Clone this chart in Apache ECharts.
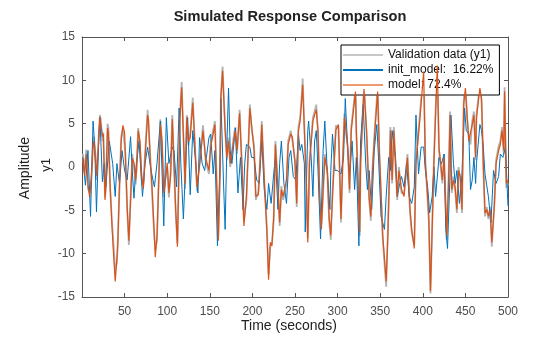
<!DOCTYPE html>
<html>
<head>
<meta charset="utf-8">
<script src="https://cdn.jsdelivr.net/npm/echarts@6/dist/echarts.min.js"></script>
<style>html,body{margin:0;padding:0;background:#fff}#c{width:560px;height:337px}</style>
</head>
<body>
<div id="c"></div>
<script>
// [time (s), amplitude]
var validationData = [[1,1.5],[3,-0.5],[5,2.0],[7,-2.5],[9,-3.0],[11,-1.5],[13,3.0],[14,3.5],[16,1.0],[17,-1.5],[19,2.5],[21,6.0],[22,5.5],[24,3.0],[25,4.0],[27,-3.5],[28,-2.5],[30,5.0],[31,4.5],[33,-2.5],[35,-6.0],[37,-9.0],[39,-12.0],[41,-11.0],[42,-8.5],[44,-2.5],[46,3.5],[48,4.5],[50,4.5],[51,1.5],[53,-5.0],[55,-9.0],[57,-3.5],[59,1.5],[61,0.0],[63,-2.0],[64,0.0],[66,4.5],[68,2.5],[70,-1.5],[72,-2.0],[74,1.5],[77,6.6],[78,5.0],[80,1.5],[82,-2.5],[84,-6.5],[86,-9.5],[88,-8.5],[90,-1.5],[92,5.5],[94,2.5],[96,-3.5],[98,-1.0],[100,0.0],[102,-3.5],[104,-0.5],[106,6.0],[110,-5.5],[112,-8.8],[115,6.2],[117,9.8],[121,-2.5],[123,6.0],[125,2.5],[127,3.8],[130,8.0],[135,-2.8],[139,1.5],[142,4.8],[145,0.8],[149,-0.8],[151,2.8],[156,5.3],[160,-8.0],[162,-0.8],[163,8.2],[165,11.6],[168,4.6],[170,0.8],[172,3.4],[174,0.0],[178,3.5],[180,4.6],[182,1.5],[185,6.6],[188,-0.8],[190,-6.2],[193,-3.8],[197,7.2],[199,4.5],[202,2.4],[204,-3.8],[207,-2.8],[209,0.8],[211,5.3],[214,-1.9],[217,-7.0],[219,-12.4],[221,-9.2],[223,-8.6],[225,-6.2],[227,3.0],[230,-2.2],[232,-6.8],[234,-2.2],[236,-3.8],[238,-3.0],[240,-1.9],[242,3.0],[245,4.2],[247,3.0],[250,0.8],[252,-4.6],[254,4.6],[256,5.7],[258,8.4],[259,10.2],[261,4.6],[263,-1.2],[265,-8.2],[267,0.8],[271,5.7],[273,6.4],[275,7.2],[277,3.8],[279,-3.8],[281,-6.6],[283,-3.0],[285,1.5],[288,-0.8],[290,-6.2],[292,-8.4],[294,-3.0],[298,4.8],[301,4.4],[304,-6.4],[306,0.8],[308,6.2],[310,3.8],[312,2.4],[314,-3.0],[316,4.6],[318,6.4],[321,9.2],[322,3.8],[326,-8.0],[327,0.8],[331,9.6],[334,3.8],[337,-3.8],[339,-6.2],[341,0.0],[344,5.0],[347,9.2],[349,1.5],[353,-8.4],[357,-13.8],[359,-7.4],[361,0.0],[362,4.6],[364,-1.9],[366,4.6],[368,0.0],[370,-3.8],[372,0.0],[375,-3.0],[378,-3.0],[382,1.5],[385,-5.3],[387,-7.6],[390,-9.0],[392,0.8],[395,4.2],[397,6.6],[399,9.0],[401,11.4],[403,0.8],[405,-2.8],[407,-6.2],[409,-14.6],[411,-6.8],[413,0.8],[415,6.6],[417,11.2],[419,1.9],[423,-1.9],[425,1.5],[428,-8.4],[430,-2.2],[432,6.4],[434,-3.0],[436,-1.1],[438,-2.8],[440,-5.3],[442,0.0],[444,-1.5],[446,-5.3],[448,7.6],[450,9.6],[452,5.6],[454,3.4],[456,2.6],[458,5.3],[460,6.4],[462,0.8],[463,6.0],[467,9.6],[469,7.4],[471,0.0],[473,-5.7],[475,-4.6],[477,-6.0],[479,-4.6],[481,-9.2],[484,-4.2],[486,0.8],[489,2.4],[491,3.0],[493,4.6],[495,1.5],[496,9.2],[498,-2.4],[500,-1.9]];

var initModelData = [[1,1.1],[4,-2.1],[7,1.9],[10,-5.7],[13,5.3],[15,2.3],[17,-5.2],[20,4.3],[21,5.7],[24,-1.7],[26,0.4],[28,-2.3],[32,3.0],[36,0.4],[39,-3.4],[41,0.4],[44,-1.9],[47,1.9],[50,-0.4],[53,-1.5],[57,3.5],[59,-0.4],[61,-3.6],[63,-0.4],[67,3.0],[71,-3.4],[74,0.4],[77,2.3],[81,-0.4],[85,-2.3],[88,0.4],[92,5.3],[96,-6.8],[99,5.7],[102,0.4],[106,2.3],[108,1.9],[111,-2.3],[114,6.8],[116,0.4],[119,-6.0],[122,1.1],[124,5.7],[127,-3.2],[130,4.2],[133,1.1],[136,-3.0],[138,3.4],[141,0.4],[144,-0.4],[146,1.1],[149,3.4],[151,3.8],[154,-0.8],[156,1.9],[159,-9.1],[162,0.4],[163,7.9],[166,-1.5],[168,-7.2],[170,2.3],[172,9.1],[174,1.9],[176,0.4],[180,4.5],[183,-3.0],[186,1.1],[189,-4.9],[191,0.4],[193,2.6],[197,2.3],[199,1.1],[202,1.1],[205,-1.5],[208,-1.9],[211,3.0],[214,-2.6],[217,-4.9],[219,-1.9],[222,-4.2],[225,-0.8],[227,1.1],[230,-4.9],[232,0.4],[234,3.0],[237,-1.9],[240,-4.2],[243,1.1],[245,1.9],[248,-1.1],[251,-1.5],[254,3.8],[256,1.9],[258,2.6],[261,0.4],[262,-7.5],[265,4.2],[266,5.3],[269,1.1],[271,-3.4],[273,3.0],[275,4.2],[277,-0.4],[280,-8.3],[283,1.9],[285,5.3],[288,-0.8],[291,-4.9],[292,-0.4],[294,3.8],[297,-0.4],[300,-0.4],[304,-0.8],[307,1.1],[309,7.9],[312,1.9],[314,-1.1],[317,3.0],[320,-2.6],[322,1.1],[325,-9.1],[327,3.0],[330,7.2],[333,0.4],[335,-2.6],[337,-0.4],[340,-4.9],[343,1.9],[346,4.9],[348,1.1],[351,-5.7],[355,-7.2],[357,-3.4],[360,1.1],[362,-0.4],[364,4.2],[368,1.1],[370,-3.4],[373,-1.9],[375,-1.1],[378,-2.3],[381,0.4],[384,-3.4],[387,-4.2],[390,-2.3],[392,6.0],[395,-0.8],[398,2.3],[401,2.3],[403,-0.4],[406,-2.6],[408,-5.3],[411,-3.4],[413,0.0],[415,-3.4],[419,1.1],[422,0.4],[425,1.5],[427,-7.2],[429,-9.4],[432,-0.8],[433,6.0],[436,0.4],[438,-1.9],[440,-0.4],[443,-4.2],[446,-0.8],[449,6.8],[451,4.2],[454,3.8],[456,-2.6],[458,-1.5],[460,1.1],[462,-1.9],[463,0.4],[467,4.9],[469,4.2],[471,2.3],[473,-0.8],[477,-3.4],[480,-6.4],[483,-0.4],[486,-1.9],[489,-1.1],[491,1.5],[494,1.1],[497,2.3],[499,-2.3],[500,-4.5]];

var modelData = [[1,1.0],[3,-1.0],[5,1.5],[7,-2.0],[9,-3.5],[11,-1.0],[13,2.5],[14,3.0],[16,0.5],[17,-1.0],[19,2.0],[21,5.8],[22,5.0],[24,3.5],[25,3.8],[27,-3.8],[28,-2.0],[30,4.5],[31,4.0],[33,-2.0],[35,-6.5],[37,-10.0],[39,-13.2],[41,-10.5],[42,-9.0],[44,-2.0],[46,3.0],[48,4.8],[50,4.0],[51,1.0],[53,-4.5],[55,-8.5],[57,-4.0],[59,1.0],[61,0.5],[63,-1.5],[64,-0.5],[66,4.2],[68,3.0],[70,-1.0],[72,-2.5],[74,1.0],[77,6.0],[78,5.5],[80,1.0],[82,-2.0],[84,-6.0],[86,-10.4],[88,-8.0],[90,-2.0],[92,4.9],[94,3.0],[96,-3.0],[98,-1.5],[100,0.5],[102,-3.0],[104,-1.0],[106,5.5],[110,-4.9],[112,-9.2],[115,5.7],[117,9.2],[121,-1.9],[123,5.7],[125,3.0],[127,3.4],[130,7.4],[135,-2.3],[139,1.1],[142,4.2],[145,1.1],[149,-0.4],[151,2.3],[156,4.9],[160,-8.5],[162,-0.4],[163,7.9],[165,11.1],[168,4.2],[170,1.1],[172,3.0],[174,0.4],[178,3.0],[180,4.2],[182,1.9],[185,6.2],[188,-0.4],[190,-6.8],[193,-3.4],[197,6.8],[199,4.9],[202,1.9],[204,-3.4],[207,-3.2],[209,0.4],[211,4.9],[214,-1.5],[217,-7.5],[219,-13.0],[221,-8.7],[223,-9.1],[225,-5.7],[227,2.6],[230,-2.6],[232,-6.4],[234,-2.6],[236,-3.4],[238,-3.4],[240,-1.5],[242,2.6],[245,3.8],[247,3.4],[250,0.4],[252,-4.2],[254,4.2],[256,5.3],[258,7.9],[259,9.5],[261,4.2],[263,-0.8],[265,-8.7],[267,0.4],[271,5.3],[273,6.0],[275,6.6],[277,4.2],[279,-3.4],[281,-7.2],[283,-2.6],[285,1.1],[288,-0.4],[290,-5.7],[292,-7.9],[294,-3.4],[298,4.3],[301,4.9],[304,-6.0],[306,0.4],[308,5.7],[310,4.2],[312,1.9],[314,-2.6],[316,4.2],[318,6.0],[321,8.7],[322,4.2],[326,-7.5],[327,0.4],[331,9.0],[334,4.2],[337,-3.4],[339,-5.7],[341,-0.4],[344,4.5],[347,8.7],[349,1.9],[353,-7.9],[357,-13.2],[359,-7.9],[361,-0.4],[362,4.2],[364,-1.5],[366,4.2],[368,0.4],[370,-3.4],[372,-0.4],[375,-2.6],[378,-3.4],[382,1.1],[385,-4.9],[387,-7.2],[390,-9.4],[392,0.4],[395,3.8],[397,6.0],[399,8.5],[401,11.0],[403,0.4],[405,-2.3],[407,-5.7],[409,-14.3],[411,-7.2],[413,0.4],[415,6.0],[417,11.7],[419,2.3],[423,-1.5],[425,1.1],[428,-7.9],[430,-2.6],[432,6.0],[434,-2.6],[436,-1.5],[438,-2.3],[440,-4.9],[442,-0.4],[444,-1.1],[446,-4.9],[448,7.2],[450,9.1],[452,6.0],[454,3.0],[456,3.0],[458,4.9],[460,6.0],[462,1.1],[463,5.7],[467,9.1],[469,7.9],[471,0.4],[473,-5.3],[475,-4.9],[477,-5.7],[479,-4.9],[481,-8.7],[484,-4.5],[486,0.4],[489,1.9],[491,2.6],[493,4.2],[495,1.9],[496,8.7],[498,-1.9],[500,-1.5]];

var seriesNames = ['Validation data (y1)', 'init_model:  16.22%', 'model: 72.4%'];
var yTicks = [-15, -10, -5, 0, 5, 10, 15];

var FONT = '"Liberation Sans", Arial, Helvetica, sans-serif';
var AX = '#555555';
var chart = echarts.init(document.getElementById('c'), null, {renderer: 'canvas'});

function xAx(pos, showLabel) {
  return {
    type: 'value', position: pos, min: 0, max: 500, interval: 50,
    axisLine: {show: true, onZero: false, lineStyle: {color: AX, width: 1}},
    axisTick: {show: true, inside: true, length: 4, lineStyle: {color: AX}},
    axisLabel: {show: showLabel, margin: 9, color: '#4d4d4d', fontSize: 12, fontFamily: FONT,
      formatter: function (v) { return v === 0 ? '' : String(v); }},
    splitLine: {show: false}
  };
}
function yAx(pos, showLabel) {
  return {
    type: 'value', position: pos, min: yTicks[0], max: yTicks[yTicks.length - 1], interval: 5,
    axisLine: {show: true, onZero: false, lineStyle: {color: AX, width: 1}},
    axisTick: {show: true, inside: true, length: 4, lineStyle: {color: AX}},
    axisLabel: {show: showLabel, margin: 7, color: '#4d4d4d', fontSize: 12, fontFamily: FONT},
    splitLine: {show: false}
  };
}

chart.setOption({
  animation: false,
  backgroundColor: '#ffffff',
  grid: {left: 82, right: 52, top: 37, bottom: 40, containLabel: false},
  xAxis: [xAx('bottom', true), xAx('top', false)],
  yAxis: [yAx('left', true), yAx('right', false)],
  legend: {
    orient: 'vertical', left: 341, top: 45,
    data: [
      {name: seriesNames[0], itemStyle: {color: '#c8c8c8'}},
      {name: seriesNames[1], itemStyle: {color: '#0072BD'}},
      {name: seriesNames[2], itemStyle: {color: '#EE9A6E'}}
    ],
    icon: 'rect',
    itemWidth: 40, itemHeight: 2, itemGap: 3,
    padding: [4, 6, 4, 2],
    backgroundColor: '#ffffff', borderColor: '#000000', borderWidth: 1, borderRadius: 0,
    textStyle: {fontSize: 12, fontFamily: FONT, color: '#111111', lineHeight: 12},
    selectedMode: false
  },
  series: [
    {name: seriesNames[0], type: 'line', data: validationData, symbol: 'none', z: 2,
     lineStyle: {color: '#b3b3b3', width: 1.8}, itemStyle: {color: '#c8c8c8'}},
    {name: seriesNames[1], type: 'line', data: initModelData, symbol: 'none', z: 3,
     lineStyle: {color: '#0072BD', width: 1}, itemStyle: {color: '#0072BD'}},
    {name: seriesNames[2], type: 'line', data: modelData, symbol: 'none', z: 4,
     lineStyle: {color: '#D95319', width: 1.2}, itemStyle: {color: '#D95319'}}
  ],
  graphic: [
    {type: 'text', x: 290, y: 17, style: {text: 'Simulated Response Comparison', fontSize: 14.6, fontWeight: 'bold', fontFamily: FONT, fill: '#222', align: 'center', verticalAlign: 'middle'}},
    {type: 'text', x: 289, y: 326, style: {text: 'Time (seconds)', fontSize: 14, fontFamily: FONT, fill: '#222', align: 'center', verticalAlign: 'middle'}},
    {type: 'text', x: 25, y: 168, rotation: Math.PI / 2, style: {text: 'Amplitude', fontSize: 14, fontFamily: FONT, fill: '#222', align: 'center', verticalAlign: 'middle'}},
    {type: 'text', x: 46, y: 165, rotation: Math.PI / 2, style: {text: 'y1', fontSize: 13, fontFamily: FONT, fill: '#222', align: 'center', verticalAlign: 'middle'}}
  ]
});
</script>
</body>
</html>
